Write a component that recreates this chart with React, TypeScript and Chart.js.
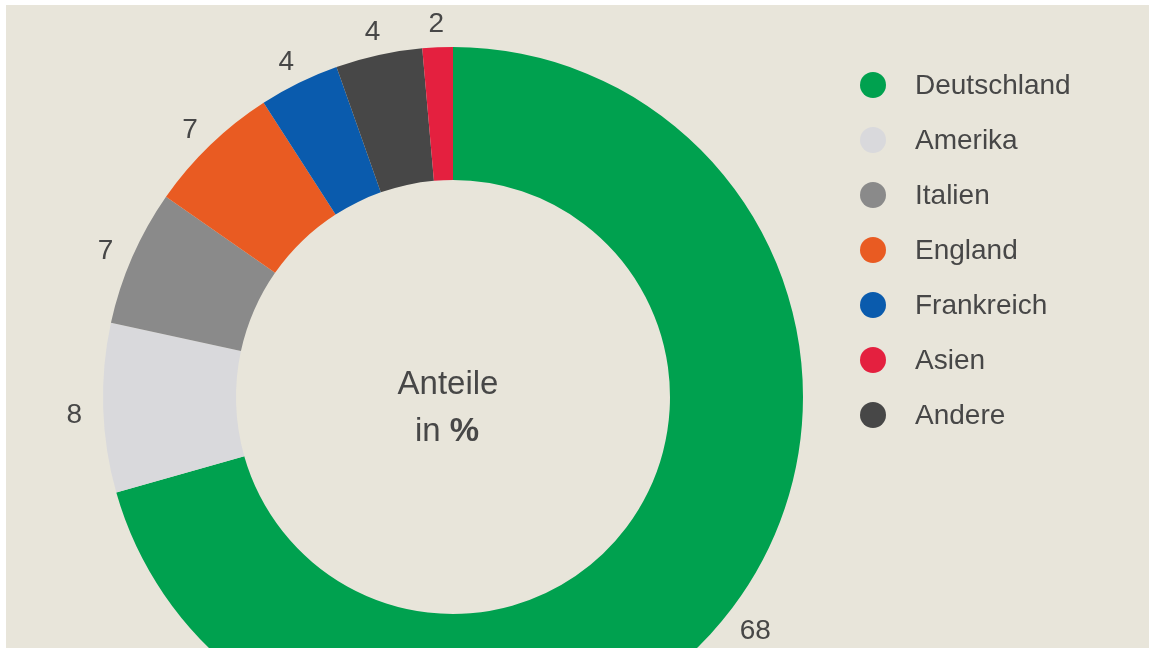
import React, { useEffect, useRef } from "react";
import { Chart, registerables } from "chart.js";

Chart.register(...registerables);

// Slices in clockwise order starting at 12 o'clock
const categories = ["Deutschland", "Amerika", "Italien", "England", "Frankreich", "Andere", "Asien"];
// Arc shares as drawn in the reference (percent of circle)
const arcShares = [70.6, 7.8, 6.3, 6.2, 3.7, 4.0, 1.4];
// Value labels printed next to each slice
const valueLabels = ["68", "8", "7", "7", "4", "4", "2"];
const sliceColors = ["#00a14f", "#d9d9dc", "#8a8a8a", "#e95b22", "#0a5bad", "#474747", "#e4203f"];
// Legend order
const legendOrder = ["Deutschland", "Amerika", "Italien", "England", "Frankreich", "Asien", "Andere"];

const BG = "#e8e5da";
const TEXT = "#474747";
const FONT = "'Liberation Sans', Arial, sans-serif";

const W = 1143;
const H = 784;
const CX = 447;
const CY = 392;
const R = 350;

const overlayPlugin = {
  id: "overlay",
  afterDatasetsDraw(chart: any) {
    const ctx = chart.ctx;
    const meta = chart.getDatasetMeta(0);
    const first = meta.data[0];
    const cx = first.x;
    const cy = first.y;
    ctx.save();
    // value labels
    ctx.fillStyle = TEXT;
    ctx.font = `28px ${FONT}`;
    ctx.textAlign = "center";
    ctx.textBaseline = "middle";
    meta.data.forEach((arc: any, i: number) => {
      const mid = (arc.startAngle + arc.endAngle) / 2;
      const r = arc.outerRadius + 29;
      ctx.fillText(valueLabels[i], cx + Math.cos(mid) * r, cy + Math.sin(mid) * r + 6);
    });
    // center text
    ctx.font = `33px ${FONT}`;
    ctx.fillText("Anteile", cx - 5, cy - 12);
    const inW = ctx.measureText("in ").width;
    ctx.font = `bold 33px ${FONT}`;
    const pW = ctx.measureText("%").width;
    const total = inW + pW;
    const startX = cx - 6 - total / 2;
    ctx.textAlign = "left";
    ctx.font = `33px ${FONT}`;
    ctx.fillText("in ", startX, cy + 35);
    ctx.font = `bold 33px ${FONT}`;
    ctx.fillText("%", startX + inW, cy + 35);
    // legend
    ctx.font = `28px ${FONT}`;
    legendOrder.forEach((name, k) => {
      const idx = categories.indexOf(name);
      const y = 80 + k * 55;
      ctx.beginPath();
      ctx.fillStyle = sliceColors[idx];
      ctx.arc(867, y, 13, 0, Math.PI * 2);
      ctx.fill();
      ctx.fillStyle = TEXT;
      ctx.textAlign = "left";
      ctx.textBaseline = "middle";
      ctx.fillText(name, 909, y + 1);
    });
    ctx.restore();
  },
};

export default function App() {
  const ref = useRef<HTMLCanvasElement | null>(null);
  useEffect(() => {
    document.body.style.margin = "0";
    document.body.style.background = "#ffffff";
    const canvas = ref.current!;
    const chart = new Chart(canvas, {
      type: "doughnut",
      data: {
        labels: categories,
        datasets: [
          {
            data: arcShares,
            backgroundColor: sliceColors,
            borderWidth: 0,
          } as any,
        ],
      },
      options: {
        animation: false,
        responsive: false,
        maintainAspectRatio: false,
        cutout: 217,
        layout: {
          padding: { left: CX - R, right: W - CX - R, top: CY - R, bottom: H - CY - R },
        },
        plugins: {
          legend: { display: false },
          tooltip: { enabled: false },
        },
      } as any,
      plugins: [overlayPlugin],
    });
    return () => chart.destroy();
  }, []);
  return (
    <div
      style={{
        position: "absolute",
        left: 6,
        top: 5,
        width: W,
        height: 643,
        overflow: "hidden",
        background: BG,
      }}
    >
      <canvas ref={ref} width={W} height={H} style={{ width: W, height: H, display: "block" }} />
    </div>
  );
}
